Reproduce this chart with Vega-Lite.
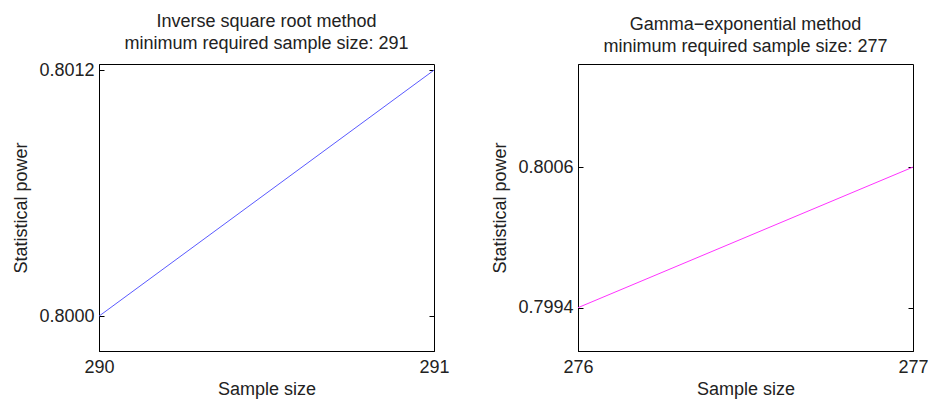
{
  "$schema": "https://vega.github.io/schema/vega-lite/v6.json",
  "background": "white",
  "padding": {"left": 12, "top": 12, "right": 5, "bottom": 5},
  "spacing": 41,
  "config": {
    "font": "Liberation Sans",
    "view": {"stroke": "#000", "strokeWidth": 1},
    "axis": {
      "grid": false,
      "domainColor": "#000",
      "tickColor": "#000",
      "tickSize": -5,
      "labelFont": "Liberation Sans",
      "labelFontSize": 18,
      "labelColor": "#222",
      "titleFont": "Liberation Sans",
      "titleFontSize": 18,
      "titleFontWeight": "normal",
      "titleColor": "#222",
      "labelFlush": false
    },
    "title": {"font": "Liberation Sans", "fontSize": 18, "fontWeight": "normal", "color": "#222", "lineHeight": 22, "anchor": "middle", "offset": 8}
  },
  "hconcat": [
    {
      "width": 335,
      "height": 287,
      "title": {"text": ["Inverse square root method", "minimum required sample size: 291"]},
      "data": {"values": [
        {"n": 290, "power": 0.8000},
        {"n": 291, "power": 0.8012}
      ]},
      "layer": [
        {
          "mark": {"type": "line", "color": "#5a5aff", "strokeWidth": 1},
          "encoding": {
            "x": {"field": "n", "type": "quantitative", "scale": {"domain": [290, 291], "nice": false, "zero": false},
                  "axis": {"orient": "bottom", "values": [290, 291], "format": "d", "title": "Sample size", "labelPadding": 12, "titlePadding": 4, "labelFlush": false}},
            "y": {"field": "power", "type": "quantitative", "scale": {"domain": [0.79983, 0.80123], "nice": false, "zero": false},
                  "axis": {"orient": "left", "values": [0.8, 0.8012], "format": ".4f", "title": "Statistical power", "labelPadding": 10, "titlePadding": 8}}
          }
        },
        {
          "mark": {"type": "line", "opacity": 0},
          "encoding": {
            "x": {"field": "n", "type": "quantitative"},
            "y": {"field": "power", "type": "quantitative",
                  "axis": {"orient": "right", "values": [0.8, 0.8012], "labels": false, "title": null, "domain": false}}
          }
        }
      ],
      "resolve": {"axis": {"y": "independent"}}
    },
    {
      "width": 335,
      "height": 287,
      "title": {"text": ["Gamma\u2212exponential method", "minimum required sample size: 277"]},
      "data": {"values": [
        {"n": 276, "power": 0.7994},
        {"n": 277, "power": 0.8006}
      ]},
      "layer": [
        {
          "mark": {"type": "line", "color": "#ff33ff", "strokeWidth": 1},
          "encoding": {
            "x": {"field": "n", "type": "quantitative", "scale": {"domain": [276, 277], "nice": false, "zero": false},
                  "axis": {"orient": "bottom", "values": [276, 277], "format": "d", "title": "Sample size", "labelPadding": 12, "titlePadding": 4, "labelFlush": false}},
            "y": {"field": "power", "type": "quantitative", "scale": {"domain": [0.79903, 0.80148], "nice": false, "zero": false},
                  "axis": {"orient": "left", "values": [0.7994, 0.8006], "format": ".4f", "title": "Statistical power", "labelPadding": 10, "titlePadding": 8}}
          }
        },
        {
          "mark": {"type": "line", "opacity": 0},
          "encoding": {
            "x": {"field": "n", "type": "quantitative"},
            "y": {"field": "power", "type": "quantitative",
                  "axis": {"orient": "right", "values": [0.7994, 0.8006], "labels": false, "title": null, "domain": false}}
          }
        }
      ],
      "resolve": {"axis": {"y": "independent"}}
    }
  ]
}
